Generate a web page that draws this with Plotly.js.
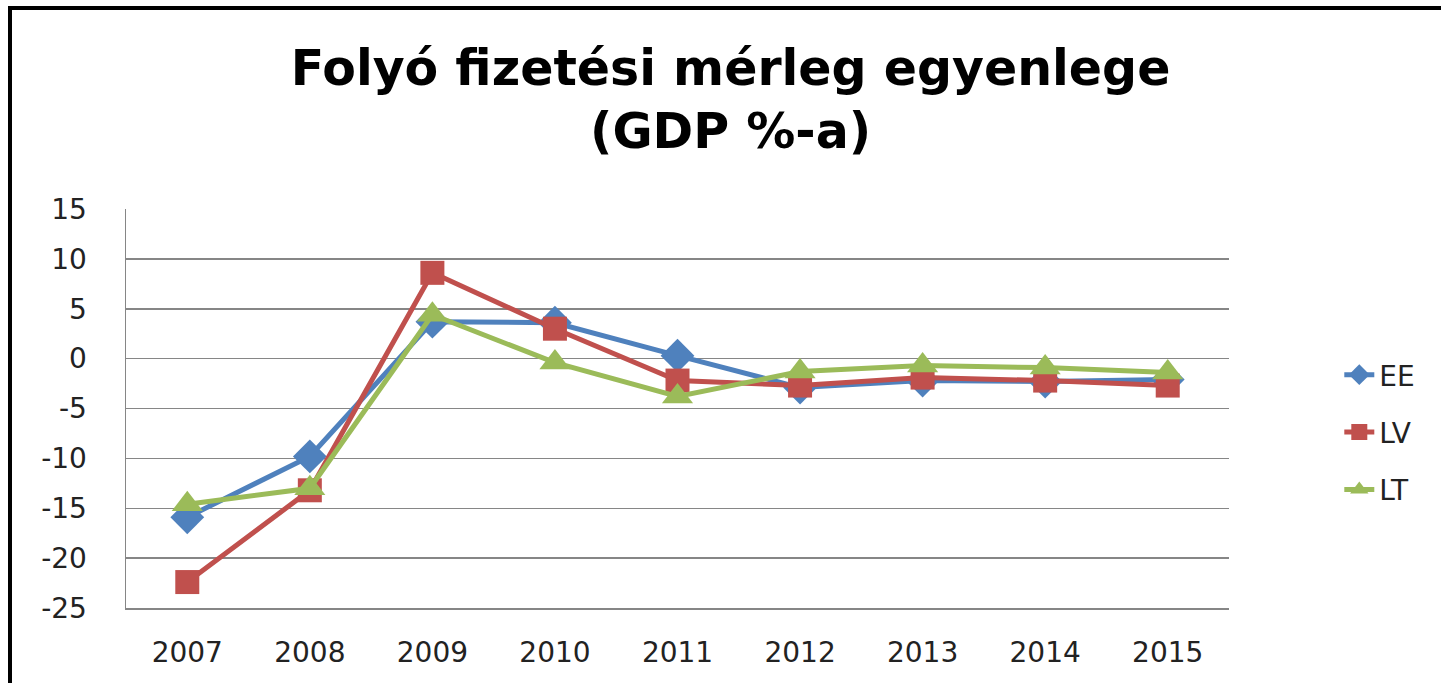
<!DOCTYPE html>
<html>
<head>
<meta charset="utf-8">
<script src="https://cdn.plot.ly/plotly-3.0.1.min.js"></script>
<style>
html,body{margin:0;padding:0;background:#fff;}
#chart{position:absolute;left:0;top:0;width:1441px;height:683px;}
#frame{position:absolute;left:8px;top:6px;width:1441px;height:683px;border-left:4px solid #000;border-top:4px solid #000;pointer-events:none;}
</style>
</head>
<body>
<div id="chart"></div>
<div id="frame"></div>
<script>
const years = ['2007','2008','2009','2010','2011','2012','2013','2014','2015'];
const eeValues = [-15.9, -9.8, 3.7, 3.6, 0.3, -2.9, -2.2, -2.3, -2.1];
const lvValues = [-22.4, -13.2, 8.6, 3.0, -2.2, -2.7, -1.9, -2.2, -2.7];
const ltValues = [-14.6, -13.0, 4.4, -0.4, -3.8, -1.3, -0.7, -0.9, -1.4];
const seriesNames = ['EE', 'LV', 'LT'];
const yTicks = [15, 10, 5, 0, -5, -10, -15, -20, -25];

const fontFam = 'DejaVu Sans, sans-serif';
function mk(name, vals, color, symbol, size, grp) {
  return {
    type: 'scatter', mode: 'lines+markers', name: name, x: years, y: vals,
    legendgroup: grp,
    line: {color: color, width: 5},
    marker: {color: color, symbol: symbol, size: size},
    cliponaxis: false
  };
}
const traces = [
  mk(seriesNames[0], eeValues, '#4F81BD', 'diamond', 26, 'a'),
  mk(seriesNames[1], lvValues, '#C0504D', 'square', 24, 'b'),
  mk(seriesNames[2], ltValues, '#9BBB59', 'triangle-up', 27, 'c')
];
const layout = {
  width: 1441, height: 683,
  margin: {l: 126, r: 212, t: 209, b: 75},
  paper_bgcolor: '#fff', plot_bgcolor: '#fff',
  font: {family: fontFam, color: '#222', size: 28},
  title: {
    text: 'Folyó fizetési mérleg egyenlege<br>(GDP %-a)',
    font: {family: fontFam, size: 49, color: '#000', weight: 'bold'},
    xref: 'container', x: 0.507, xanchor: 'center',
    yref: 'container', y: 0.876, yanchor: 'top'
  },
  xaxis: {
    type: 'category', range: [-0.5, 8.5],
    showgrid: false, zeroline: false, showline: true, linecolor: '#868686', linewidth: 1.5,
    ticks: '', ticklabelstandoff: 19,
    tickfont: {family: fontFam, size: 28, color: '#222'}
  },
  yaxis: {
    range: [-25, 15], tickvals: yTicks, ticktext: yTicks.map(String),
    showgrid: true, gridcolor: '#868686', gridwidth: 1.5,
    zeroline: false, showline: true, linecolor: '#868686', linewidth: 1.5,
    ticks: '', ticklabelstandoff: 32,
    tickfont: {family: fontFam, size: 28, color: '#222'}
  },
  showlegend: true,
  legend: {
    x: 1.1, xanchor: 'left', y: 0.44, yanchor: 'middle',
    font: {family: fontFam, size: 28, color: '#222'},
    tracegroupgap: 18, itemsizing: 'trace', bgcolor: 'rgba(0,0,0,0)'
  }
};
Plotly.newPlot('chart', traces, layout, {displayModeBar: false, staticPlot: true});
</script>
</body>
</html>
